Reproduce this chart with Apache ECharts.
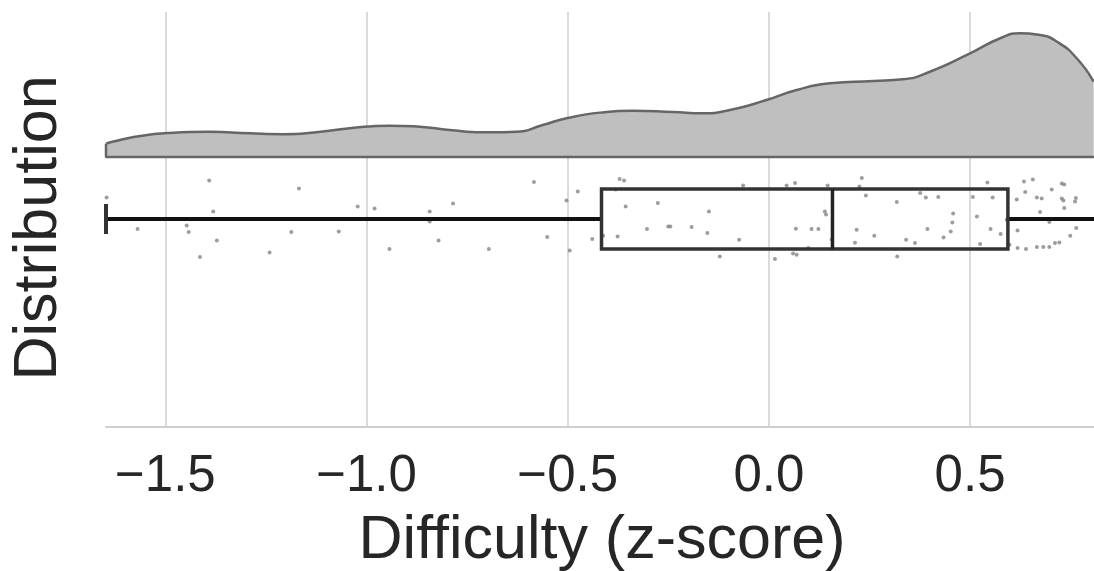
<!DOCTYPE html>
<html>
<head>
<meta charset="utf-8">
<script src="https://cdn.jsdelivr.net/npm/echarts@6/dist/echarts.min.js"></script>
<style>
  html, body { margin: 0; padding: 0; background: #ffffff; }
  #chart { width: 1094px; height: 571px; }
</style>
</head>
<body>
<div id="chart"></div>
<script>
// Difficulty scores (z-score): half-violin density ("cloud"), box plot and jittered points ("rain").

// Kernel density estimate, sampled along the difficulty axis
const densityX = [-1.6475, -1.5025, -1.3905, -1.291, -1.209, -1.125, -1.042, -0.943, -0.868, -0.794,
                  -0.711, -0.628, -0.562, -0.503, -0.420, -0.338, -0.239, -0.164, -0.097, -0.006,
                  0.069, 0.152, 0.259, 0.333, 0.400, 0.500, 0.575, 0.624, 0.674, 0.716, 0.765, 0.807];
const densityY = [0.092, 0.163, 0.174, 0.163, 0.157, 0.170, 0.198, 0.216, 0.209, 0.186,
                  0.170, 0.174, 0.221, 0.267, 0.306, 0.319, 0.310, 0.301, 0.324, 0.393,
                  0.462, 0.508, 0.524, 0.536, 0.588, 0.715, 0.819, 0.853, 0.841, 0.795, 0.681, 0.519];

// Box plot summary: lower whisker, Q1, median, Q3, upper whisker
const boxStats = [-1.6475, -0.416, 0.158, 0.594, 0.83];

// Individual scores and their vertical jitter (category units, row centred at 0)
const pointsX = [-1.646, -1.569, -1.447, -1.442, -1.414, -1.391, -1.381, -1.372, -1.241, -1.187,
                 -1.168, -1.069, -1.022, -0.980, -0.943, -0.843, -0.843, -0.821, -0.785, -0.696,
                 -0.584, -0.551, -0.503, -0.495, -0.475, -0.439, -0.412, -0.381, -0.376, -0.371,
                 -0.360, -0.356, -0.303, -0.276, -0.250, -0.245, -0.192, -0.153, -0.149, -0.122,
                 -0.074, -0.064, 0.015, 0.044, 0.060, 0.065, 0.067, 0.069, 0.098, 0.106,
                 0.123, 0.139, 0.142, 0.146, 0.156, 0.214, 0.218, 0.225, 0.231, 0.241,
                 0.262, 0.318, 0.319, 0.341, 0.363, 0.376, 0.390, 0.394, 0.421, 0.434,
                 0.452, 0.456, 0.458, 0.507, 0.517, 0.525, 0.543, 0.551, 0.556, 0.576,
                 0.591, 0.598, 0.616, 0.618, 0.618, 0.634, 0.637, 0.639, 0.656, 0.666,
                 0.666, 0.674, 0.678, 0.682, 0.697, 0.697, 0.703, 0.711, 0.722, 0.728,
                 0.734, 0.728, 0.732, 0.734, 0.749, 0.761, 0.763, 0.764];
const pointsJitter = [-0.107, 0.050, 0.032, 0.065, 0.190, -0.192, -0.038, 0.107, 0.167, 0.065,
                      -0.152, 0.062, -0.063, -0.052, 0.150, -0.038, 0.012, 0.107, -0.077, 0.150,
                      -0.185, 0.090, -0.093, 0.157, -0.138, 0.100, 0.084, -0.147, 0.087, -0.200,
                      -0.193, -0.063, 0.050, -0.080, 0.037, 0.037, 0.040, 0.070, -0.038, 0.187,
                      0.104, -0.167, 0.200, -0.167, 0.172, -0.180, 0.049, 0.179, 0.145, 0.050,
                      0.050, -0.038, -0.022, -0.167, 0.102, 0.119, 0.054, -0.163, -0.205, -0.117,
                      0.084, -0.085, 0.187, 0.104, 0.120, -0.130, -0.108, 0.050, -0.110, 0.092,
                      0.062, 0.017, -0.027, -0.110, -0.013, 0.125, -0.183, 0.050, -0.108, 0.075,
                      0.004, 0.129, -0.097, 0.057, 0.145, -0.188, -0.135, 0.150, -0.197, -0.108,
                      0.140, -0.035, -0.102, 0.140, 0.015, 0.140, -0.147, 0.120, 0.117, -0.177,
                      -0.172, -0.102, -0.093, -0.055, 0.084, -0.088, -0.105, 0.045];

// Axis tick values and their printed labels
const tickValues = [-1.5, -1.0, -0.5, 0.0, 0.5];
const tickLabels = ['\u22121.5', '\u22121.0', '\u22120.5', '0.0', '0.5'];

const xTitle = 'Difficulty (z-score)';
const yTitle = 'Distribution';

// Visible range of the difficulty axis
const X_MIN = -1.6475;
const X_MAX = 0.808;

const FONT = '"Liberation Sans", Arial, sans-serif';
const TEXT_COLOR = '#262626';
const GRID_COLOR = '#cfcfcf';
const BOX_HALF = 0.15;

function tickText(v) {
  for (let i = 0; i < tickValues.length; i++) {
    if (Math.abs(tickValues[i] - v) < 1e-6) return tickLabels[i];
  }
  return '';
}

const densityData = densityX.map((x, i) => [x, densityY[i]]);
const outlineData = [[X_MAX, 0], [X_MIN, 0], [X_MIN, densityY[0]]];
const pointData = pointsX.map((x, i) => [x, pointsJitter[i]]);

const splitLineCfg = {
  show: true,
  showMinLine: false,
  showMaxLine: false,
  lineStyle: { color: GRID_COLOR, width: 1.5 }
};

const chart = echarts.init(document.getElementById('chart'), null, { renderer: 'canvas' });

chart.setOption({
  animation: false,
  backgroundColor: '#ffffff',
  grid: [
    { left: 106, right: 0, top: 12, height: 145 },
    { left: 106, right: 0, top: 157, height: 270 }
  ],
  xAxis: [
    {
      gridIndex: 0, type: 'value', min: X_MIN, max: X_MAX, splitNumber: 5,
      axisLine: { show: false, onZero: false }, axisTick: { show: false }, axisLabel: { show: false },
      splitLine: splitLineCfg
    },
    {
      gridIndex: 1, type: 'value', min: X_MIN, max: X_MAX, splitNumber: 5, position: 'bottom',
      axisLine: { show: true, onZero: false, lineStyle: { color: GRID_COLOR, width: 2 } },
      axisTick: { show: false },
      axisLabel: {
        show: true, showMinLabel: false, showMaxLabel: false,
        formatter: tickText,
        fontFamily: FONT, fontSize: 51, color: TEXT_COLOR, margin: 24
      },
      splitLine: splitLineCfg
    }
  ],
  yAxis: [
    { gridIndex: 0, type: 'value', min: 0, max: 1, show: false },
    { gridIndex: 1, type: 'value', min: -0.31, max: 1.04, inverse: true, show: false }
  ],
  series: [
    {
      name: 'density', type: 'line', xAxisIndex: 0, yAxisIndex: 0,
      data: densityData, smooth: 0.55, symbol: 'none', clip: true,
      lineStyle: { color: '#666666', width: 2.5 },
      areaStyle: { color: '#bfbfbf', opacity: 1 },
      z: 2
    },
    {
      name: 'density-outline', type: 'line', xAxisIndex: 0, yAxisIndex: 0,
      data: outlineData, symbol: 'none', clip: false,
      lineStyle: { color: '#666666', width: 2.5 },
      z: 3
    },
    {
      name: 'scores', type: 'scatter', xAxisIndex: 1, yAxisIndex: 1,
      data: pointData, symbol: 'circle', symbolSize: 4,
      itemStyle: { color: '#858585', opacity: 0.8 },
      z: 3
    },
    {
      name: 'box', type: 'custom', xAxisIndex: 1, yAxisIndex: 1,
      data: [boxStats], z: 4,
      renderItem: function (params, api) {
        const cs = params.coordSys;
        const left = cs.x, right = cs.x + cs.width;
        const clampX = (px) => Math.max(left, Math.min(right, px));
        const lo = api.value(0), q1 = api.value(1), med = api.value(2),
              q3 = api.value(3), hi = api.value(4);
        const pLo = api.coord([lo, 0]), pQ1 = api.coord([q1, 0]), pMed = api.coord([med, 0]),
              pQ3 = api.coord([q3, 0]), pHi = api.coord([hi, 0]);
        const top = api.coord([q1, -BOX_HALF])[1];
        const bot = api.coord([q1, BOX_HALF])[1];
        const capTop = api.coord([lo, -BOX_HALF / 2])[1];
        const capBot = api.coord([lo, BOX_HALF / 2])[1];
        const cy = pMed[1];
        const boxStroke = { stroke: '#333333', lineWidth: 3.5, fill: null };
        const whisker = { stroke: '#111111', lineWidth: 4 };
        const cap = { stroke: '#333333', lineWidth: 4 };
        const children = [
          { type: 'line', shape: { x1: clampX(pLo[0]), y1: cy, x2: pQ1[0], y2: cy }, style: whisker },
          { type: 'line', shape: { x1: pQ3[0], y1: cy, x2: clampX(pHi[0]), y2: cy }, style: whisker },
          { type: 'rect', shape: { x: pQ1[0], y: top, width: pQ3[0] - pQ1[0], height: bot - top }, style: boxStroke },
          { type: 'line', shape: { x1: pMed[0], y1: top, x2: pMed[0], y2: bot }, style: { stroke: '#222222', lineWidth: 3.5 } }
        ];
        // whisker caps are only drawn where they fall inside the visible range
        [pLo[0], pHi[0]].forEach(function (px) {
          if (px >= left - 0.5 && px <= right + 0.5) {
            children.push({ type: 'line', shape: { x1: px, y1: capTop, x2: px, y2: capBot }, style: cap });
          }
        });
        return { type: 'group', children: children };
      }
    }
  ],
  graphic: [
    {
      type: 'text', x: 602, y: 541,
      style: { text: xTitle, font: '61px ' + FONT, fill: TEXT_COLOR, align: 'center', verticalAlign: 'middle' }
    },
    {
      type: 'text', x: 39, y: 228, rotation: Math.PI / 2,
      style: { text: yTitle, font: '61px ' + FONT, fill: TEXT_COLOR, align: 'center', verticalAlign: 'middle' }
    }
  ]
});
</script>
</body>
</html>
